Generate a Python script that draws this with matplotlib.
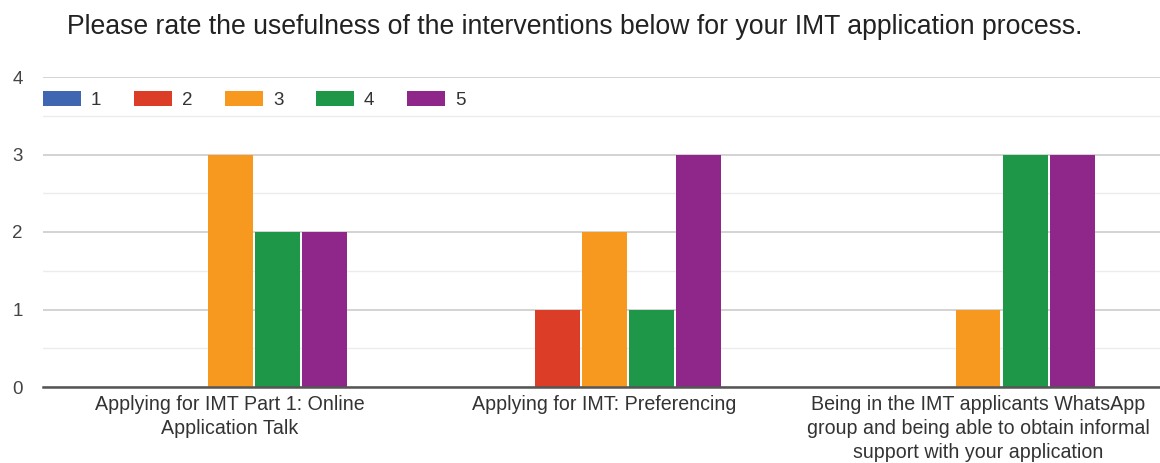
import matplotlib
matplotlib.use("Agg")
import matplotlib.pyplot as plt
from matplotlib.ticker import MultipleLocator
import numpy as np

title = "Please rate the usefulness of the interventions below for your IMT application process."
categories = [
    "Applying for IMT Part 1: Online\nApplication Talk",
    "Applying for IMT: Preferencing",
    "Being in the IMT applicants WhatsApp\ngroup and being able to obtain informal\nsupport with your application",
]
series_names = ["1", "2", "3", "4", "5"]
rating_1 = [0, 0, 0]
rating_2 = [0, 1, 0]
rating_3 = [3, 2, 1]
rating_4 = [2, 1, 3]
rating_5 = [2, 3, 3]
colors = ["#3f67b1", "#dc3d26", "#f7981f", "#1f9748", "#8f2689"]

plt.rcParams['font.family'] = ['Liberation Sans', 'DejaVu Sans']

W, H = 1160, 463
fig = plt.figure(figsize=(W / 100, H / 100), dpi=100)
ax = fig.add_axes([43 / W, (H - 387) / H, (1165 - 43) / W, (387 - 77) / H])

series = [rating_1, rating_2, rating_3, rating_4, rating_5]
x = np.arange(len(categories))
pitch = 47 / 374
width = 45 / 374
for j, (name, vals, c) in enumerate(zip(series_names, series, colors)):
    ax.bar(x + (j - 2) * pitch, vals, width=width, color=c, label=name, zorder=3, linewidth=0)

ax.set_xlim(-0.5, 2.5)
ax.set_ylim(0, 4)
ax.yaxis.set_major_locator(MultipleLocator(1))
ax.yaxis.set_minor_locator(MultipleLocator(0.5))
ax.grid(axis='y', which='major', color='#cccccc', linewidth=1.2, zorder=0)
ax.grid(axis='y', which='minor', color='#ececec', linewidth=1.0, zorder=0)
for s in ['top', 'right', 'left']:
    ax.spines[s].set_visible(False)
ax.spines['bottom'].set_color('#555555')
ax.spines['bottom'].set_linewidth(1.8)
ax.spines['bottom'].set_zorder(4)

ax.set_xticks(x)
ax.set_xticklabels(categories, fontsize=14.1, color='#333333', linespacing=1.36)
ax.tick_params(axis='x', length=0, pad=5.5)
ax.tick_params(axis='y', which='both', length=0, pad=14.5, labelsize=13.5, labelcolor='#444444')
ax.tick_params(axis='y', which='minor', labelleft=False)

fig.text(575 / W, 1 - 34 / H, title, ha='center', va='baseline', fontsize=19.2, color='#222222')

leg = ax.legend(loc='center left', bbox_to_anchor=(43 / W, 1 - 100 / H), bbox_transform=fig.transFigure,
                ncol=5, frameon=False, fontsize=13.5, handlelength=2.0, handleheight=0.8,
                handletextpad=0.55, columnspacing=1.75, borderpad=0, borderaxespad=0)
for t in leg.get_texts():
    t.set_color('#333333')

fig.savefig("out.png", dpi=100, facecolor='white')
